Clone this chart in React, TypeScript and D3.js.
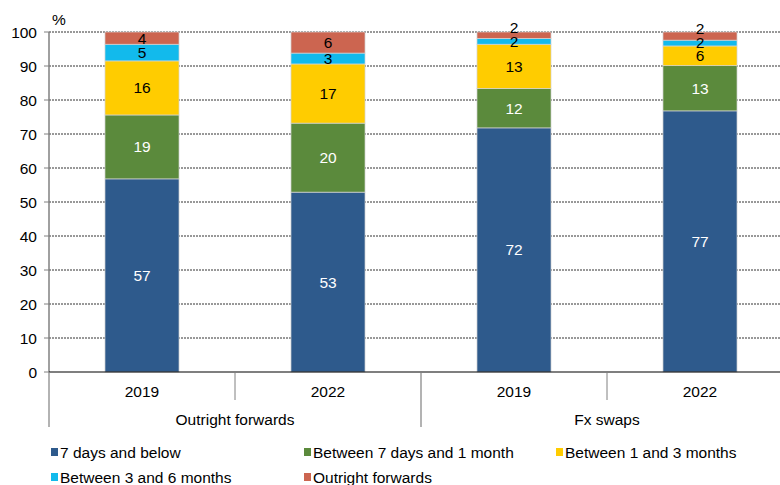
import React from "react";
import * as d3 from "d3";

const groups = ["Outright forwards", "Fx swaps"];
const years = ["2019", "2022", "2019", "2022"];
const seriesNames = [
  "7 days and below",
  "Between 7 days and 1 month",
  "Between 1 and 3 months",
  "Between 3 and 6 months",
  "Outright forwards",
];
const sevenDays = [56.8, 52.9, 71.8, 76.8];
const sevenToMonth = [18.8, 20.3, 11.6, 13.3];
const oneToThree = [15.9, 17.4, 13.0, 5.8];
const threeToSix = [4.9, 3.2, 1.7, 1.7];
const outright = [3.6, 6.2, 1.9, 2.4];
const yTicks = [0, 10, 20, 30, 40, 50, 60, 70, 80, 90, 100];

const colors = ["#2E5A8C", "#5B8A3C", "#FFCC00", "#12BAEC", "#CC6550"];
const labelColors = ["#fff", "#fff", "#000", "#000", "#000"];
const FONT = "'Liberation Sans', Arial, sans-serif";
const FS = 15.5;

export default function App() {
  const W = 780,
    H = 485;
  const x0 = 49,
    x1 = 793,
    yTop = 32,
    yBase = 372;
  const keys = ["a", "b", "c", "d", "e"];
  const rows = years.map((_, i) => ({
    idx: i,
    a: sevenDays[i],
    b: sevenToMonth[i],
    c: oneToThree[i],
    d: threeToSix[i],
    e: outright[i],
  }));
  const stacked = d3.stack<any>().keys(keys)(rows);
  const x = d3
    .scaleBand<number>()
    .domain(years.map((_, i) => i))
    .range([x0, x1])
    .paddingInner(0.602)
    .paddingOuter(0.301);
  const y = d3.scaleLinear().domain([0, 100]).range([yBase, yTop]);
  const step = x.step();

  // label positions with simple overlap avoidance
  const labels: any[] = [];
  years.forEach((_, i) => {
    let prev = Infinity;
    stacked.forEach((s, k) => {
      const d = s[i];
      const v = d[1] - d[0];
      let cy = (y(d[0]) + y(d[1])) / 2;
      if (cy > prev - 13.5) cy = prev - 13.5;
      prev = cy;
      labels.push({
        x: (x(i) as number) + x.bandwidth() / 2,
        y: cy,
        text: String(Math.round(v)),
        color: labelColors[k],
      });
    });
  });

  const legendPos = [
    [51, 452],
    [304, 452],
    [556, 452],
    [51, 477],
    [304, 477],
  ];

  return (
    <svg
      width={W}
      height={H}
      style={{ position: "absolute", left: 0, top: 0, fontFamily: FONT }}
    >
      <rect x={0} y={0} width={W} height={H} fill="#fff" />
      {/* gridlines */}
      {yTicks
        .filter((t) => t > 0)
        .map((t) => (
          <line
            key={t}
            x1={x0}
            x2={W}
            y1={y(t)}
            y2={y(t)}
            stroke="#333"
            strokeWidth={1}
            strokeDasharray="2,1"
          />
        ))}
      {/* bars */}
      {stacked.map((s, k) =>
        s.map((d, i) => (
          <rect
            key={k + "-" + i}
            x={x(i)}
            y={y(d[1])}
            width={x.bandwidth()}
            height={y(d[0]) - y(d[1])}
            fill={colors[k]}
            stroke="#d4d4d4"
            strokeWidth={0.7}
          />
        ))
      )}
      {/* y axis */}
      <line x1={x0} x2={x0} y1={yTop} y2={yBase} stroke="#808080" strokeWidth={1.5} />
      {yTicks.map((t) => (
        <g key={t}>
          <line x1={x0 - 5} x2={x0} y1={y(t)} y2={y(t)} stroke="#808080" strokeWidth={1} />
          <text
            x={37}
            y={y(t)}
            textAnchor="end"
            dominantBaseline="central"
            fontSize={FS}
            fill="#000"
          >
            {t}
          </text>
        </g>
      ))}
      <text x={52} y={19} fontSize={FS} dominantBaseline="central" fill="#000">
        %
      </text>
      {/* x axis */}
      <line x1={x0} x2={W} y1={yBase} y2={yBase} stroke="#000" strokeWidth={1.2} />
      {years.map((yr, i) => (
        <text
          key={i}
          x={(x(i) as number) + x.bandwidth() / 2}
          y={391}
          textAnchor="middle"
          dominantBaseline="central"
          fontSize={FS}
          fill="#000"
        >
          {yr}
        </text>
      ))}
      {[1, 3].map((i) => (
        <line
          key={i}
          x1={x0 + step * i}
          x2={x0 + step * i}
          y1={yBase}
          y2={400}
          stroke="#808080"
          strokeWidth={1}
        />
      ))}
      {[0, 2, 4].map((i) => (
        <line
          key={i}
          x1={x0 + step * i}
          x2={x0 + step * i}
          y1={yBase}
          y2={427}
          stroke="#808080"
          strokeWidth={1.2}
        />
      ))}
      {groups.map((g, gi) => (
        <text
          key={g}
          x={x0 + step * (gi * 2 + 1)}
          y={419}
          textAnchor="middle"
          dominantBaseline="central"
          fontSize={FS}
          fill="#000"
        >
          {g}
        </text>
      ))}
      {/* data labels */}
      {labels.map((l, i) => (
        <text
          key={i}
          x={l.x}
          y={l.y}
          textAnchor="middle"
          dominantBaseline="central"
          fontSize={FS}
          fill={l.color}
        >
          {l.text}
        </text>
      ))}
      {/* legend */}
      {seriesNames.map((n, k) => (
        <g key={n} transform={`translate(${legendPos[k][0]},${legendPos[k][1]})`}>
          <rect x={0} y={-4} width={7} height={8} fill={colors[k]} />
          <text x={9} y={0} dominantBaseline="central" fontSize={FS} fill="#000">
            {n}
          </text>
        </g>
      ))}
    </svg>
  );
}
